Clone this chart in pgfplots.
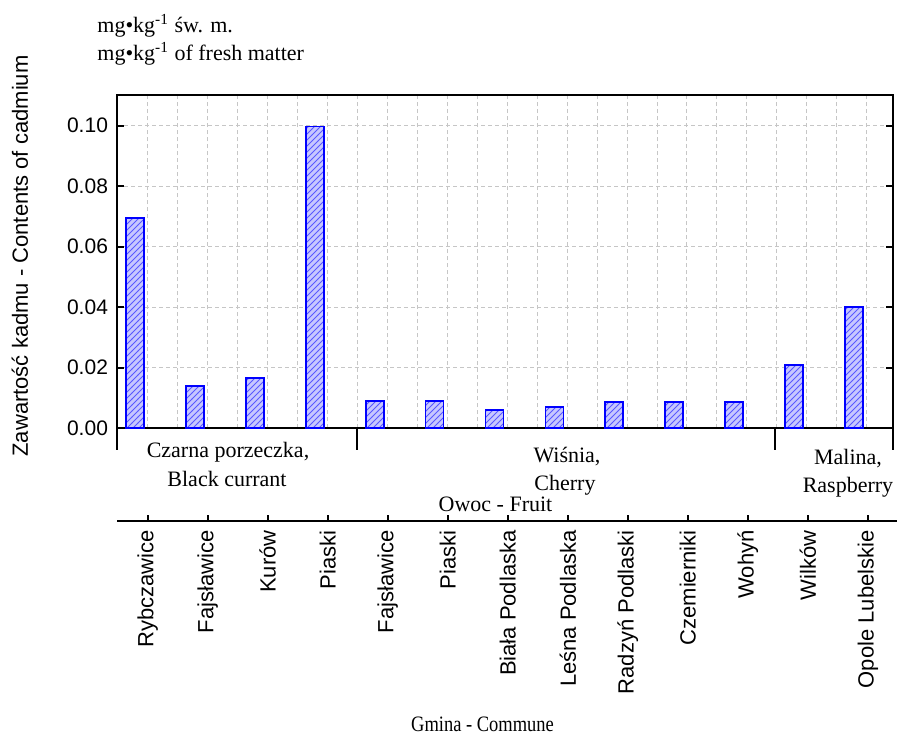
\documentclass[border=0pt]{standalone}
\usepackage{fontspec}
\setmainfont{Liberation Sans}
\newfontfamily\serif{Liberation Serif}
\usepackage{pgfplots}
\pgfplotsset{compat=1.18}
\usetikzlibrary{patterns}
\begin{document}
\begin{tikzpicture}
\useasboundingbox (0,0) rectangle (449pt,-367.5pt);
\begin{axis}[
  at={(58.5pt,-214.15pt)}, anchor=south west,
  scale only axis, width=388pt, height=166.65pt,
  xmin=-0.51, xmax=12.44, ymin=0, ymax=0.1101,
  ybar, bar width=9pt, bar shift=-6.3pt,
  xtick={0,...,12}, xticklabels={}, minor x tick num=1,
  x tick style={draw=none},
  ytick={0,0.02,0.04,0.06,0.08,0.1},
  ytick pos=both, yticklabel pos=left,
  tick align=inside, major tick length=3.5pt,
  y tick style={line width=1pt, black},
  xmajorgrids, xminorgrids, ymajorgrids,
  grid style={dashed, gray!45, line width=0.4pt, dash pattern=on 2pt off 1.5pt},
  axis line style={line width=1pt},
  yticklabel style={font=\fontsize{10.5}{12}\selectfont, xshift=-1pt},
  /pgf/number format/.cd, fixed, fixed zerofill, precision=2, assume math mode=true,
]
\addplot[draw=blue, line width=0.9pt, fill=blue!22,
  postaction={pattern=north east lines, pattern color=blue!65}]
  coordinates {(0,0.0695) (1,0.0141) (2,0.0167) (3,0.0997) (4,0.0090) (5,0.0090)
               (6,0.0060) (7,0.0071) (8,0.0088) (9,0.0088) (10,0.0088) (11,0.0210) (12,0.0400)};
\end{axis}
\begin{scope}[x=0.5pt, y=-0.5pt]
  \draw[line width=1pt] (117,428.3) -- (117,450);
  \draw[line width=1pt] (357,428.3) -- (357,450);
  \draw[line width=1pt] (775,428.3) -- (775,450);
  \draw[line width=1pt] (893,428.3) -- (893,450);
  \draw[line width=1pt] (117,521) -- (897,521);
  \foreach \i in {0,...,12} \draw[line width=1pt] ({147.6+60.03*\i},521) -- ++(0,-6);
  \foreach \i/\t in {0/Rybczawice, 1/Fajsławice, 2/Kurów, 3/Piaski, 4/Fajsławice, 5/Piaski,
     6/Biała Podlaska, 7/Leśna Podlaska, 8/Radzyń Podlaski, 9/Czemierniki, 10/Wohyń,
     11/Wilków, 12/Opole Lubelskie}
    \node[rotate=90, anchor=east, inner sep=0pt, font=\fontsize{11}{13}\selectfont]
      at ({147.6+60.03*\i},530) {\t};
  \node[rotate=90, font=\fontsize{11}{13}\selectfont] at (20,256) {Zawartość kadmu - Contents of cadmium};
  \begin{scope}[every node/.style={inner sep=0pt, font=\serif\fontsize{11}{13}\selectfont}]
    \node[anchor=base west] at (97,32) {mg•kg\textsuperscript{-1} św. m.};
    \node[anchor=base west] at (97,60) {mg•kg\textsuperscript{-1} of fresh matter};
    \node[anchor=base] at (228,457) {Czarna porzeczka,};
    \node[anchor=base] at (227,486) {Black currant};
    \node[anchor=base] at (567,462) {Wiśnia,};
    \node[anchor=base] at (565,490) {Cherry};
    \node[anchor=base] at (848,464) {Malina,};
    \node[anchor=base] at (848,492) {Raspberry};
    \node[anchor=base] at (495.5,511) {Owoc - Fruit};
    \node[anchor=base] at (482.5,731) {\scalebox{0.84}[1]{Gmina - Commune}};
  \end{scope}
\end{scope}
\end{tikzpicture}
\end{document}
